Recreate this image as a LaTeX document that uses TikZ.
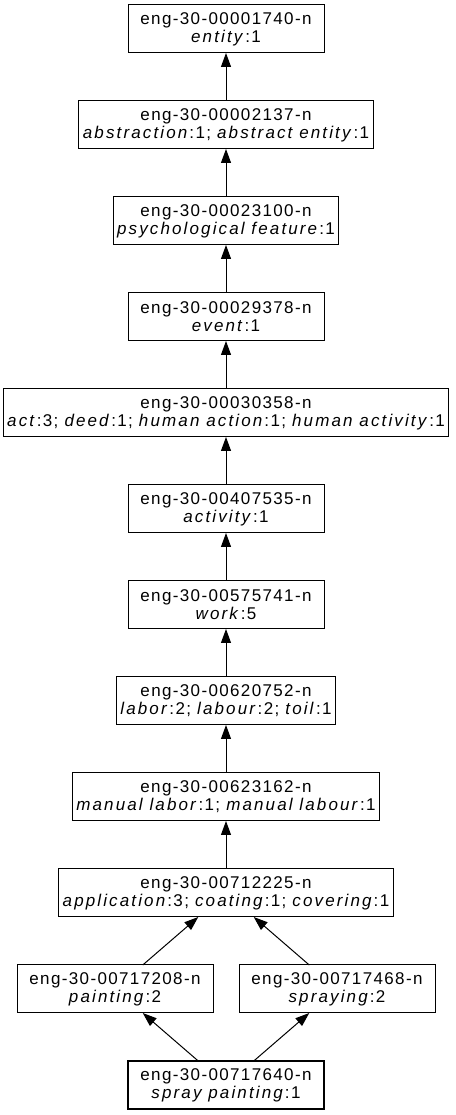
\documentclass[tikz,border=0pt]{standalone}
\usepackage{fontspec}
\setmainfont{Liberation Sans}[LetterSpace=8, ItalicFeatures={LetterSpace=12.5}]
\usetikzlibrary{positioning,arrows.meta}

\begin{document}
\begin{tikzpicture}[
    x=1pt, y=1pt,
    node distance=48pt,
    synset/.style={rectangle, draw, fill=white, line width=1pt, outer sep=0pt, align=center, minimum width=196pt, minimum height=48pt, inner xsep=4pt, inner ysep=0pt, font=\fontsize{17}{18}\selectfont},
    focus/.style={synset, line width=2pt},
    arrow/.style={-{Triangle[length=14pt, width=10pt]}, line width=1pt}
]
\useasboundingbox (0,0) rectangle (455,1115);

% Hypernym chain, top to bottom
\node[synset] (entity) at (226,1086) {eng-30-00001740-n\\\textit{entity}:1};
\node[synset, below=of entity] (abstraction) {eng-30-00002137-n\\\textit{abstraction}:1; \textit{abstract entity}:1};
\node[synset, below=of abstraction] (psych) {eng-30-00023100-n\\\textit{psychological feature}:1};
\node[synset, below=of psych] (event) {eng-30-00029378-n\\\textit{event}:1};
\node[synset, below=of event] (act) {eng-30-00030358-n\\\textit{act}:3; \textit{deed}:1; \textit{human action}:1; \textit{human activity}:1};
\node[synset, below=of act] (activity) {eng-30-00407535-n\\\textit{activity}:1};
\node[synset, below=of activity] (work) {eng-30-00575741-n\\\textit{work}:5};
\node[synset, below=of work] (labor) {eng-30-00620752-n\\\textit{labor}:2; \textit{labour}:2; \textit{toil}:1};
\node[synset, below=of labor] (manual) {eng-30-00623162-n\\\textit{manual labor}:1; \textit{manual labour}:1};
\node[synset, below=of manual] (application) {eng-30-00712225-n\\\textit{application}:3; \textit{coating}:1; \textit{covering}:1};

% Two parents of the focus synset
\node[synset, below=of application, xshift=-111pt] (painting) {eng-30-00717208-n\\\textit{painting}:2};
\node[synset, below=of application, xshift=111pt] (spraying) {eng-30-00717468-n\\\textit{spraying}:2};

% Focus synset
\node[focus, below=of painting, xshift=111pt] (spray) {eng-30-00717640-n\\\textit{spray painting}:1};

% Hypernym arrows
\draw[arrow] (abstraction) -- (entity);
\draw[arrow] (psych) -- (abstraction);
\draw[arrow] (event) -- (psych);
\draw[arrow] (act) -- (event);
\draw[arrow] (activity) -- (act);
\draw[arrow] (work) -- (activity);
\draw[arrow] (labor) -- (work);
\draw[arrow] (manual) -- (labor);
\draw[arrow] (application) -- (manual);
\draw[arrow] (painting) -- (application);
\draw[arrow] (spraying) -- (application);
\draw[arrow] (spray) -- (painting);
\draw[arrow] (spray) -- (spraying);

\end{tikzpicture}
\end{document}
